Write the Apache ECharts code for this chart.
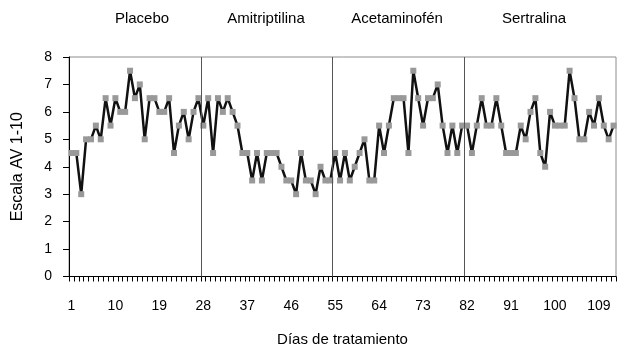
<!DOCTYPE html>
<html>
<head>
<meta charset="utf-8">
<script src="https://cdn.jsdelivr.net/npm/echarts@6/dist/echarts.min.js"></script>
<style>html,body{margin:0;padding:0;background:#fff}#c{width:621px;height:349px}</style>
</head>
<body>
<div id="c"></div>
<script>
// Day categories 1..112
const days = [];
for (let d = 1; d <= 112; d++) days.push(String(d));

// VAS score per day
const scores = [
  4.5,4.5,3,5,5,5.5,5,6.5,5.5,6.5,
  6,6,7.5,6.5,7,5,6.5,6.5,6,6,
  6.5,4.5,5.5,6,5,6,6.5,5.5,6.5,4.5,
  6.5,6,6.5,6,5.5,4.5,4.5,3.5,4.5,3.5,
  4.5,4.5,4.5,4,3.5,3.5,3,4.5,3.5,3.5,
  3,4,3.5,3.5,4.5,3.5,4.5,3.5,4,4.5,
  5,3.5,3.5,5.5,4.5,5.5,6.5,6.5,6.5,4.5,
  7.5,6.5,5.5,6.5,6.5,7,5.5,4.5,5.5,4.5,
  5.5,5.5,4.5,5.5,6.5,5.5,5.5,6.5,5.5,4.5,
  4.5,4.5,5.5,5,6,6.5,4.5,4,6,5.5,
  5.5,5.5,7.5,6.5,5,5,6,5.5,6.5,5.5,
  5,5.5
];

// Treatment phases: names and the day boundaries between them
const phaseNames = ['Placebo', 'Amitriptilina', 'Acetaminofén', 'Sertralina'];
const phaseBreaks = [27, 54, 81]; // boundary after these many days

const yTicks = [0, 1, 2, 3, 4, 5, 6, 7, 8];

const FONT = 'Liberation Sans';
const chart = echarts.init(document.getElementById('c'), null, {renderer: 'canvas'});

chart.setOption({
  animation: false,
  backgroundColor: '#fff',
  grid: {
    show: true, borderColor: '#8c8c8c', borderWidth: 1,
    left: 69, right: 5, top: 57, bottom: 72.5,
    containLabel: false, outerBoundsMode: 'none'
  },
  textStyle: {fontFamily: FONT},
  xAxis: [{
    type: 'category',
    data: days,
    boundaryGap: true,
    name: 'Días de tratamiento',
    nameLocation: 'middle',
    nameGap: 56,
    nameTextStyle: {fontFamily: FONT, fontSize: 15, color: '#000'},
    axisLine: {show: true, lineStyle: {color: '#000', width: 1}},
    axisTick: {show: true, interval: 0, alignWithLabel: false, length: 5, lineStyle: {color: '#000', width: 1}},
    axisLabel: {show: true, interval: 8, margin: 23, fontFamily: FONT, fontSize: 14, color: '#000'},
    splitLine: {show: false}
  }, {
    type: 'value',
    min: 0,
    max: 112,
    show: false
  }],
  yAxis: {
    type: 'value',
    min: yTicks[0],
    max: yTicks[yTicks.length - 1],
    interval: 1,
    name: 'Escala AV 1-10',
    nameLocation: 'middle',
    nameGap: 43,
    nameTextStyle: {fontFamily: FONT, fontSize: 16, color: '#000'},
    axisLine: {show: true, lineStyle: {color: '#000', width: 1}},
    axisTick: {show: true, length: 6, lineStyle: {color: '#000'}},
    axisLabel: {margin: 17, fontFamily: FONT, fontSize: 14, color: '#000'},
    splitLine: {show: false}
  },
  series: [{
    type: 'line',
    data: scores,
    symbol: 'rect',
    symbolSize: 6,
    showSymbol: true,
    showAllSymbol: true,
    itemStyle: {color: '#999999'},
    lineStyle: {color: '#111', width: 2.5},
    z: 3
  }, {
    type: 'line',
    xAxisIndex: 1,
    data: [],
    silent: true,
    markLine: {
      silent: true,
      symbol: 'none',
      label: {show: false},
      lineStyle: {color: '#555', width: 1, type: 'solid'},
      data: phaseBreaks.map(b => ({xAxis: b}))
    }
  }],
  graphic: [
    {type: 'text', x: 142, y: 19, style: {text: phaseNames[0], fontFamily: FONT, fontSize: 15, fill: '#000', align: 'center', verticalAlign: 'middle'}},
    {type: 'text', x: 266, y: 19, style: {text: phaseNames[1], fontFamily: FONT, fontSize: 15, fill: '#000', align: 'center', verticalAlign: 'middle'}},
    {type: 'text', x: 397, y: 19, style: {text: phaseNames[2], fontFamily: FONT, fontSize: 15, fill: '#000', align: 'center', verticalAlign: 'middle'}},
    {type: 'text', x: 534, y: 19, style: {text: phaseNames[3], fontFamily: FONT, fontSize: 15, fill: '#000', align: 'center', verticalAlign: 'middle'}}
  ]
});
</script>
</body>
</html>
